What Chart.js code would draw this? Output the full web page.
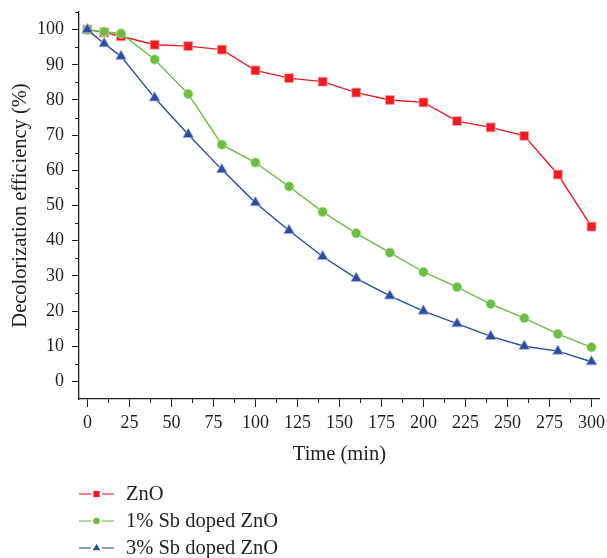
<!DOCTYPE html>
<html>
<head>
<meta charset="utf-8">
<script src="https://cdn.jsdelivr.net/npm/chart.js@4.4.1/dist/chart.umd.min.js"></script>
<style>
  html,body{margin:0;padding:0;background:#fff}
  #wrap{width:607px;height:558px}
</style>
</head>
<body>
<div id="wrap"><canvas id="c"></canvas></div>
<script>
// data
const timeMin = [0,10,20,40,60,80,100,120,140,160,180,200,220,240,260,280,300];
const zno     = [100,99.2,98.1,95.7,95.3,94.3,88.4,86.2,85.2,82.1,80.0,79.3,74.0,72.2,69.8,58.8,44.0];
const sb1     = [100,99.4,98.9,91.5,81.7,67.3,62.2,55.4,48.2,42.1,36.6,31.1,26.8,22.0,18.0,13.5,9.7];
const sb3     = [100,96.0,92.4,80.6,70.2,60.2,50.8,42.9,35.5,29.3,24.3,20.0,16.4,12.8,10.0,8.6,5.6];

const seriesNames = ['ZnO','1% Sb doped ZnO','3% Sb doped ZnO'];
const xTicks = [0,25,50,75,100,125,150,175,200,225,250,275,300];
const yTicks = [0,10,20,30,40,50,60,70,80,90,100];
const xMinor = [12.5,37.5,62.5,87.5,112.5,137.5,162.5,187.5,212.5,237.5,262.5,287.5];
const yMinor = [5,15,25,35,45,55,65,75,85,95,105];

const INK   = '#231f20';
const RED   = '#ed1c24';
const GREEN = '#6cbd45';
const BLUE  = '#2b4c9f';
const FAMILY = '"Liberation Serif", "Times New Roman", serif';
const FONT  = {family:FAMILY, size:18};
const TFONT = {family:FAMILY, size:20.5};

const pts = arr => timeMin.map((t,i)=>({x:t, y:arr[i]}));

const styles = [
  {color:RED,   edge:'#f8a5a8', pointStyle:'rect',     radius:6.3, order:2},
  {color:GREEN, edge:'#b5e09f', pointStyle:'circle',   radius:4.7, order:1},
  {color:BLUE,  edge:'#9fb0dc', pointStyle:'triangle', radius:6.2, order:0}
];

const datasets = [zno, sb1, sb3].map((arr,i)=>({
  label: seriesNames[i],
  data: pts(arr),
  borderColor: styles[i].color,
  backgroundColor: styles[i].color,
  borderWidth: 1.4,
  pointStyle: styles[i].pointStyle,
  pointRadius: styles[i].radius,
  pointBackgroundColor: styles[i].color,
  pointBorderColor: styles[i].edge,
  pointBorderWidth: 0.8,
  order: styles[i].order,
  tension: 0
}));

// minor ticks + legend with line-marker-line swatches
const extras = {
  id:'extras',
  afterDraw(chart){
    const {ctx} = chart;
    const x = chart.scales.x, y = chart.scales.y;
    ctx.save();
    ctx.strokeStyle = INK;
    ctx.lineWidth = 1;
    ctx.beginPath();
    xMinor.forEach(v=>{
      const px = Math.round(x.getPixelForValue(v))+0.5;
      ctx.moveTo(px, x.top); ctx.lineTo(px, x.top+4);
    });
    yMinor.forEach(v=>{
      const py = Math.round(y.getPixelForValue(v))+0.5;
      ctx.moveTo(y.right, py); ctx.lineTo(y.right-4, py);
    });
    ctx.stroke();

    ctx.font = `${TFONT.size}px ${FAMILY}`;
    ctx.textBaseline = 'middle';
    ctx.textAlign = 'left';
    seriesNames.forEach((name,i)=>{
      const yy = 494 + i*27;
      const st = styles[i];
      ctx.strokeStyle = st.color;
      ctx.globalAlpha = 0.75;
      ctx.lineWidth = 1.4;
      ctx.beginPath();
      ctx.moveTo(79, yy); ctx.lineTo(91, yy);
      ctx.moveTo(102, yy); ctx.lineTo(114, yy);
      ctx.stroke();
      ctx.globalAlpha = 1;
      ctx.fillStyle = st.color;
      ctx.strokeStyle = st.color;
      Chart.helpers.drawPoint(ctx, {pointStyle: st.pointStyle, radius: st.radius*0.7, rotation:0, borderWidth:0}, 96.5, yy);
      ctx.fillStyle = INK;
      ctx.fillText(name, 126, yy+1);
    });
    ctx.restore();
  }
};

new Chart(document.getElementById('c'), {
  type: 'line',
  data: { datasets },
  options: {
    responsive: true,
    maintainAspectRatio: false,
    animation: false,
    layout: { padding: {top:12, right:4, bottom:89, left:0} },
    plugins: { legend:{display:false}, tooltip:{enabled:false} },
    scales: {
      x: {
        type: 'linear', min: -5, max: 305,
        afterBuildTicks: s => { s.ticks = xTicks.map(v=>({value:v})); },
        afterFit: s => { s.height = 70; s.paddingLeft = 0; s.paddingRight = 0; },
        grid: { drawOnChartArea:false, drawTicks:true, tickLength:8, color:INK, lineWidth:1 },
        border: { display:true, color:INK, width:1.3 },
        ticks: { color:INK, font:FONT, padding:5, maxRotation:0 },
        title: { display:true, text:'Time (min)', color:INK, font:TFONT, padding:{top:3, bottom:2} }
      },
      y: {
        min: -5, max: 105,
        afterBuildTicks: s => { s.ticks = yTicks.map(v=>({value:v})); },
        afterFit: s => { s.width = 79; s.paddingTop = 0; s.paddingBottom = 0; },
        grid: { drawOnChartArea:false, drawTicks:true, tickLength:7, color:INK, lineWidth:1 },
        border: { display:true, color:INK, width:1.3 },
        ticks: { color:INK, font:FONT, padding:8 },
        title: { display:true, text:'Decolorization efficiency (%)', color:INK, font:TFONT, padding:{top:8, bottom:0} }
      }
    }
  },
  plugins: [extras]
});
</script>
</body>
</html>
